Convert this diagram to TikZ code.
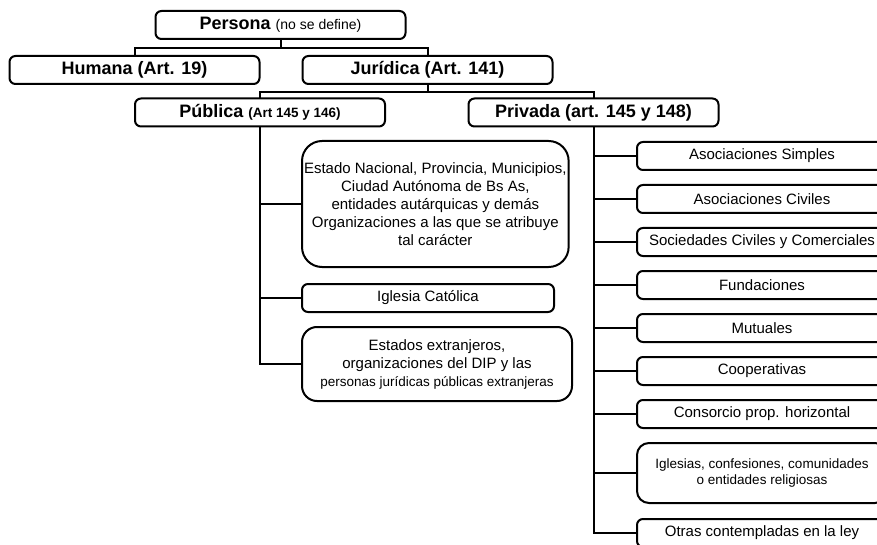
\documentclass[tikz,border=0pt]{standalone}
\usepackage{fontspec}
\setmainfont{Liberation Sans}
\usepackage{tikz}
\usetikzlibrary{positioning}
\tikzstyle{conector} = [line width=2pt]
\tikzstyle{nivel} = [rectangle, rounded corners=6pt, minimum width=250pt, minimum height=28pt, inner sep=0pt, outer sep=0pt, text centered, draw=black, line width=2pt, font=\bfseries\fontsize{18}{20}\selectfont]
\tikzstyle{hoja} = [rectangle, rounded corners=6pt, minimum height=28pt, inner sep=2pt, outer sep=0pt, align=center, draw=black, line width=2pt, font=\fontsize{15}{18}\selectfont]
\newcommand{\chico}{\fontsize{13.5}{16.5}\selectfont}

\begin{document}
\begin{tikzpicture}[x=1pt, y=-1pt, node distance=15pt]
                \fill [white] (0,0) rectangle (877,545);
                \useasboundingbox (0,0) rectangle (877,545);
                % arbol principal
                \node (persona) [nivel] at (280.5,25) {Persona {\mdseries\fontsize{14}{15}\selectfont (no se define)}};
                \node (humana) [nivel] at (134.5,70) {Humana (Art. 19)};
                \node (juridica) [nivel] at (427.5,70) {Jurídica (Art. 141)};
                \node (publica) [nivel] at (260,112.5) {Pública {\fontsize{13.5}{15}\selectfont (Art 145 y 146)}};
                \node (privada) [nivel] at (593.5,112.5) {Privada (art. 145 y 148)};
                \coordinate (barra1) at (280.5,48);
                \coordinate (barra2) at (427.5,92);

                % personas publicas
                \node (estado) [hoja, rounded corners=20pt, minimum width=266pt, minimum height=126pt, anchor=north west] at (302,141) {Estado Nacional, Provincia, Municipios,\\ Ciudad Autónoma de Bs As,\\ entidades autárquicas y demás\\ Organizaciones a las que se atribuye\\ tal carácter};
                \node (iglesiacat) [hoja, minimum width=252pt, below=17pt of estado.south west, anchor=north west] {Iglesia Católica};
                \node (extranjeros) [hoja, rounded corners=15pt, minimum width=270pt, minimum height=74pt, below=15pt of iglesiacat.south west, anchor=north west] {Estados extranjeros,\\ organizaciones del DIP y las\\ {\chico personas jurídicas públicas extranjeras}};

                % personas privadas
                \node (simples) [hoja, minimum width=250pt, anchor=north west] at (637,142) {Asociaciones Simples};
                \node (civiles) [hoja, minimum width=250pt, below=of simples] {Asociaciones Civiles};
                \node (sociedades) [hoja, minimum width=250pt, below=of civiles] {Sociedades Civiles y Comerciales};
                \node (fundaciones) [hoja, minimum width=250pt, below=of sociedades] {Fundaciones};
                \node (mutuales) [hoja, minimum width=250pt, below=of fundaciones] {Mutuales};
                \node (cooperativas) [hoja, minimum width=250pt, below=of mutuales] {Cooperativas};
                \node (consorcio) [hoja, minimum width=250pt, below=of cooperativas] {Consorcio prop. horizontal};
                \node (iglesias) [hoja, rounded corners=12pt, minimum width=250pt, minimum height=60pt, below=of consorcio, font=\chico] {Iglesias, confesiones, comunidades\\ o entidades religiosas};
                \node (otras) [hoja, minimum width=250pt, below=16pt of iglesias] {Otras contempladas en la ley};

                \draw [conector] (persona.south) -- (barra1);
                \draw [conector] (humana.north) |- (barra1) -| (juridica.north);
                \draw [conector] (juridica.south) -- (barra2);
                \draw [conector] (publica.north) |- (barra2) -| (privada.north);

                \draw [conector] (publica.south) |- (extranjeros.west);
                \draw [conector] (publica.south |- estado.west) -- (estado.west);
                \draw [conector] (publica.south |- iglesiacat.west) -- (iglesiacat.west);

                \draw [conector] (privada.south) |- (otras.west);
                \draw [conector] (privada.south |- simples.west) -- (simples.west);
                \draw [conector] (privada.south |- civiles.west) -- (civiles.west);
                \draw [conector] (privada.south |- sociedades.west) -- (sociedades.west);
                \draw [conector] (privada.south |- fundaciones.west) -- (fundaciones.west);
                \draw [conector] (privada.south |- mutuales.west) -- (mutuales.west);
                \draw [conector] (privada.south |- cooperativas.west) -- (cooperativas.west);
                \draw [conector] (privada.south |- consorcio.west) -- (consorcio.west);
                \draw [conector] (privada.south |- iglesias.west) -- (iglesias.west);
\end{tikzpicture}
\end{document}
